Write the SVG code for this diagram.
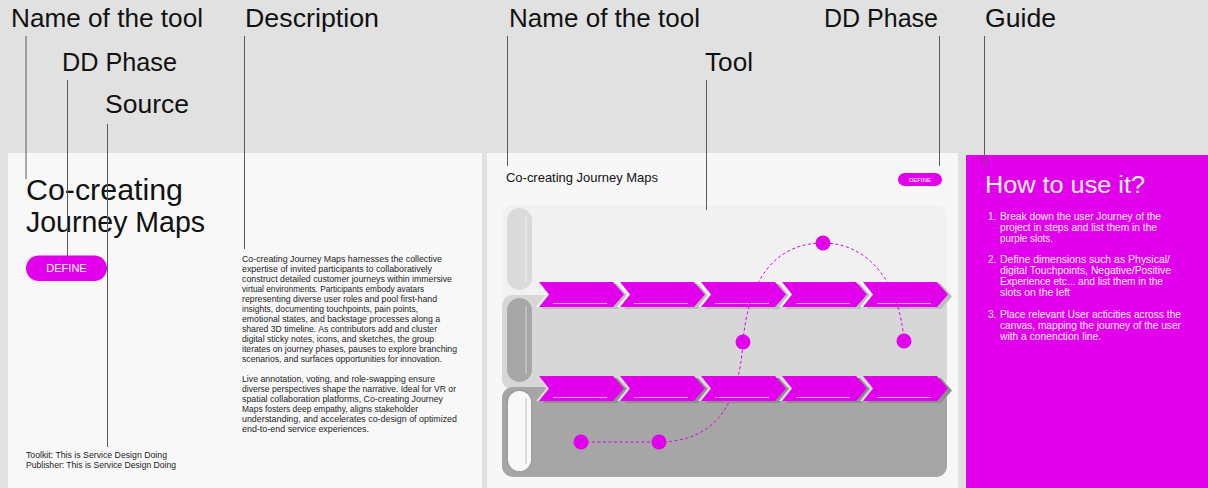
<svg xmlns="http://www.w3.org/2000/svg" width="1208" height="488" viewBox="0 0 1208 488">
<defs>
<style>
.lbl{font-family:"Liberation Sans",Arial,sans-serif;font-size:26px;fill:#111}
.lead{stroke:#5a5a5a;stroke-width:1;fill:none}
.body{font-family:"Liberation Sans",Arial,sans-serif;font-size:9.5px;fill:#1c1c1c}
.guide{font-family:"Liberation Sans",Arial,sans-serif;font-size:10px;fill:#fff0fc}
.mag{fill:#e200ec}
.chev{fill:#e200ec}
.chw{fill:#ffffff}
.cline{stroke:#f29cf4;stroke-width:1.2}
.dash{stroke:#e200ec;stroke-width:1;stroke-dasharray:3 2.5;fill:none}
</style>
<polygon id="chv" points="0,0 74,0 85,12.5 74,25 0,25 10,12.5"/>
</defs>
<rect x="0" y="0" width="1208" height="488" fill="#e1e1e1"/>

<g id="header-labels">
<text class="lbl" x="11" y="27" textLength="192" lengthAdjust="spacingAndGlyphs">Name of the tool</text>
<text class="lbl" x="62" y="71" textLength="115" lengthAdjust="spacingAndGlyphs">DD Phase</text>
<text class="lbl" x="105" y="113" textLength="84" lengthAdjust="spacingAndGlyphs">Source</text>
<text class="lbl" x="245" y="27" textLength="134" lengthAdjust="spacingAndGlyphs">Description</text>
<text class="lbl" x="509" y="27" textLength="191" lengthAdjust="spacingAndGlyphs">Name of the tool</text>
<text class="lbl" x="705" y="71" textLength="48" lengthAdjust="spacingAndGlyphs">Tool</text>
<text class="lbl" x="824" y="27" textLength="114" lengthAdjust="spacingAndGlyphs">DD Phase</text>
<text class="lbl" x="985" y="27" textLength="71" lengthAdjust="spacingAndGlyphs">Guide</text>
</g>

<g id="card-left">
<rect x="8" y="153" width="474" height="335" fill="#f8f8f8"/>
<text x="26" y="200" font-family="Liberation Sans,Arial,sans-serif" font-size="30" fill="#111" textLength="157" lengthAdjust="spacingAndGlyphs">Co-creating</text>
<text x="26" y="232" font-family="Liberation Sans,Arial,sans-serif" font-size="30" fill="#111" textLength="179" lengthAdjust="spacingAndGlyphs">Journey Maps</text>
<rect x="26" y="255.5" width="81" height="25.5" rx="12.75" class="mag"/>
<text x="66.5" y="272" text-anchor="middle" font-family="Liberation Sans,Arial,sans-serif" font-size="11" fill="#fff">DEFINE</text>
<g class="body">
<text x="242" y="262" textLength="200" lengthAdjust="spacingAndGlyphs">Co-creating Journey Maps harnesses the collective</text>
<text x="242" y="272" textLength="190" lengthAdjust="spacingAndGlyphs">expertise of invited participants to collaboratively</text>
<text x="242" y="282" textLength="210" lengthAdjust="spacingAndGlyphs">construct detailed customer journeys within immersive</text>
<text x="242" y="292" textLength="182" lengthAdjust="spacingAndGlyphs">virtual environments. Participants embody avatars</text>
<text x="242" y="302" textLength="195" lengthAdjust="spacingAndGlyphs">representing diverse user roles and pool first-hand</text>
<text x="242" y="312" textLength="176" lengthAdjust="spacingAndGlyphs">insights, documenting touchpoints, pain points,</text>
<text x="242" y="322" textLength="198" lengthAdjust="spacingAndGlyphs">emotional states, and backstage processes along a</text>
<text x="242" y="332" textLength="195" lengthAdjust="spacingAndGlyphs">shared 3D timeline. As contributors add and cluster</text>
<text x="242" y="342" textLength="192" lengthAdjust="spacingAndGlyphs">digital sticky notes, icons, and sketches, the group</text>
<text x="242" y="352" textLength="215" lengthAdjust="spacingAndGlyphs">iterates on journey phases, pauses to explore branching</text>
<text x="242" y="362" textLength="200" lengthAdjust="spacingAndGlyphs">scenarios, and surfaces opportunities for innovation.</text>
<text x="242" y="382" textLength="193" lengthAdjust="spacingAndGlyphs">Live annotation, voting, and role-swapping ensure</text>
<text x="242" y="392" textLength="214" lengthAdjust="spacingAndGlyphs">diverse perspectives shape the narrative. Ideal for VR or</text>
<text x="242" y="402" textLength="201" lengthAdjust="spacingAndGlyphs">spatial collaboration platforms, Co-creating Journey</text>
<text x="242" y="412" textLength="176" lengthAdjust="spacingAndGlyphs">Maps fosters deep empathy, aligns stakeholder</text>
<text x="242" y="422" textLength="215" lengthAdjust="spacingAndGlyphs">understanding, and accelerates co-design of optimized</text>
<text x="242" y="432" textLength="127" lengthAdjust="spacingAndGlyphs">end-to-end service experiences.</text>
<text x="26" y="458" textLength="141" lengthAdjust="spacingAndGlyphs">Toolkit:  This is Service Design Doing</text>
<text x="26" y="468" textLength="150" lengthAdjust="spacingAndGlyphs">Publisher: This is Service Design Doing</text>
</g>
</g>

<g id="card-tool">
<rect x="487" y="153" width="471" height="335" fill="#f7f7f7"/>
<text x="506" y="182" font-family="Liberation Sans,Arial,sans-serif" font-size="13" fill="#111" textLength="152" lengthAdjust="spacingAndGlyphs">Co-creating Journey Maps</text>
<rect x="898" y="173" width="44" height="13" rx="6.5" class="mag"/>
<text x="920" y="182" text-anchor="middle" font-family="Liberation Sans,Arial,sans-serif" font-size="6" fill="#fff">DEFINE</text>
<rect x="502" y="205" width="445" height="100" rx="11" fill="#f1f1f1"/>
<rect x="502" y="295" width="445" height="95" rx="11" fill="#d7d7d7"/>
<rect x="502" y="387" width="445" height="90" rx="11" fill="#a6a6a6"/>
<rect x="507" y="208" width="25" height="82" rx="12.5" fill="#dadada"/>
<line x1="526" y1="216" x2="526" y2="282" stroke="#f4f4f4" stroke-width="1"/>
<rect x="507" y="298" width="25" height="84" rx="12.5" fill="#a7a7a7"/>
<line x1="526" y1="306" x2="526" y2="374" stroke="#d9d9d9" stroke-width="1"/>
<rect x="506" y="389" width="27" height="84" rx="13.5" fill="#a0a0a0"/>
<rect x="508" y="391" width="23" height="80" rx="11.5" fill="#f8f8f8"/>
<line x1="526" y1="398" x2="526" y2="464" stroke="#bdbdbd" stroke-width="1"/>
<g id="chevrons-row1">
<use href="#chv" x="543" y="284" fill="#bcbcbc"/><use href="#chv" x="624" y="284" fill="#bcbcbc"/><use href="#chv" x="705" y="284" fill="#bcbcbc"/><use href="#chv" x="786" y="284" fill="#bcbcbc"/><use href="#chv" x="867" y="284" fill="#bcbcbc"/>
<use href="#chv" x="536" y="282" class="chw"/><use href="#chv" x="617" y="282" class="chw"/><use href="#chv" x="698" y="282" class="chw"/><use href="#chv" x="779" y="282" class="chw"/><use href="#chv" x="860" y="282" class="chw"/>
<use href="#chv" x="539" y="282" class="chev"/><use href="#chv" x="620" y="282" class="chev"/><use href="#chv" x="701" y="282" class="chev"/><use href="#chv" x="782" y="282" class="chev"/><use href="#chv" x="863" y="282" class="chev"/>
<g class="cline"><line x1="553" y1="303.5" x2="607" y2="303.5"/><line x1="634" y1="303.5" x2="688" y2="303.5"/><line x1="715" y1="303.5" x2="769" y2="303.5"/><line x1="796" y1="303.5" x2="850" y2="303.5"/><line x1="877" y1="303.5" x2="931" y2="303.5"/></g>
</g>
<g id="chevrons-row2">
<use href="#chv" x="543" y="378" fill="#8e8e8e"/><use href="#chv" x="624" y="378" fill="#8e8e8e"/><use href="#chv" x="705" y="378" fill="#8e8e8e"/><use href="#chv" x="786" y="378" fill="#8e8e8e"/><use href="#chv" x="867" y="378" fill="#8e8e8e"/>
<use href="#chv" x="536" y="376" fill="#dcdcdc"/><use href="#chv" x="617" y="376" fill="#dcdcdc"/><use href="#chv" x="698" y="376" fill="#dcdcdc"/><use href="#chv" x="779" y="376" fill="#dcdcdc"/><use href="#chv" x="860" y="376" fill="#dcdcdc"/>
<use href="#chv" x="539" y="376" class="chev"/><use href="#chv" x="620" y="376" class="chev"/><use href="#chv" x="701" y="376" class="chev"/><use href="#chv" x="782" y="376" class="chev"/><use href="#chv" x="863" y="376" class="chev"/>
<g class="cline"><line x1="553" y1="397.5" x2="607" y2="397.5"/><line x1="634" y1="397.5" x2="688" y2="397.5"/><line x1="715" y1="397.5" x2="769" y2="397.5"/><line x1="796" y1="397.5" x2="850" y2="397.5"/><line x1="877" y1="397.5" x2="931" y2="397.5"/></g>
</g>
<path class="dash" d="M581,442 L658,442 C715,442 739,405 743,342 C748,280 775,243 823,243 C870,243 900,285 904,341"/>
<g class="mag">
<circle cx="581" cy="442" r="7.5"/>
<circle cx="659" cy="442" r="7.5"/>
<circle cx="743" cy="342" r="7.5"/>
<circle cx="823" cy="243" r="7.5"/>
<circle cx="904" cy="341" r="7.5"/>
</g>
</g>

<g id="card-guide">
<rect x="966" y="155" width="242" height="333" class="mag"/>
<text x="985" y="193" font-family="Liberation Sans,Arial,sans-serif" font-size="23" fill="#fff4fd" textLength="160" lengthAdjust="spacingAndGlyphs">How to use it?</text>
<g class="guide">
<text x="988" y="220">1.</text>
<text x="1000" y="220" textLength="161" lengthAdjust="spacingAndGlyphs">Break down the user Journey of the</text>
<text x="1000" y="231" textLength="157" lengthAdjust="spacingAndGlyphs">project in steps and list them in the</text>
<text x="1000" y="242" textLength="53" lengthAdjust="spacingAndGlyphs">purple slots.</text>
<text x="988" y="263">2.</text>
<text x="1000" y="263" textLength="170" lengthAdjust="spacingAndGlyphs">Define dimensions such as Physical/</text>
<text x="1000" y="274" textLength="171" lengthAdjust="spacingAndGlyphs">digital Touchpoints, Negative/Positive</text>
<text x="1000" y="285" textLength="163" lengthAdjust="spacingAndGlyphs">Experience etc... and list them in the</text>
<text x="1000" y="296" textLength="70" lengthAdjust="spacingAndGlyphs">slots on the left</text>
<text x="988" y="318">3.</text>
<text x="1000" y="318" textLength="181" lengthAdjust="spacingAndGlyphs">Place relevant User acticities across the</text>
<text x="1000" y="329" textLength="181" lengthAdjust="spacingAndGlyphs">canvas, mapping the journey of the user</text>
<text x="1000" y="340" textLength="101" lengthAdjust="spacingAndGlyphs">with a conenction line.</text>
</g>
</g>

<g id="connectors" class="lead">
<line x1="26" y1="36" x2="26" y2="179"/>
<line x1="67.5" y1="80" x2="67.5" y2="256"/>
<line x1="107.5" y1="124" x2="107.5" y2="447"/>
<line x1="244.5" y1="36" x2="244.5" y2="249"/>
<line x1="507.5" y1="36" x2="507.5" y2="166"/>
<line x1="706.5" y1="80" x2="706.5" y2="210"/>
<line x1="939.5" y1="36" x2="939.5" y2="166"/>
<line x1="984.5" y1="36" x2="984.5" y2="166"/>
</g>
</svg>
